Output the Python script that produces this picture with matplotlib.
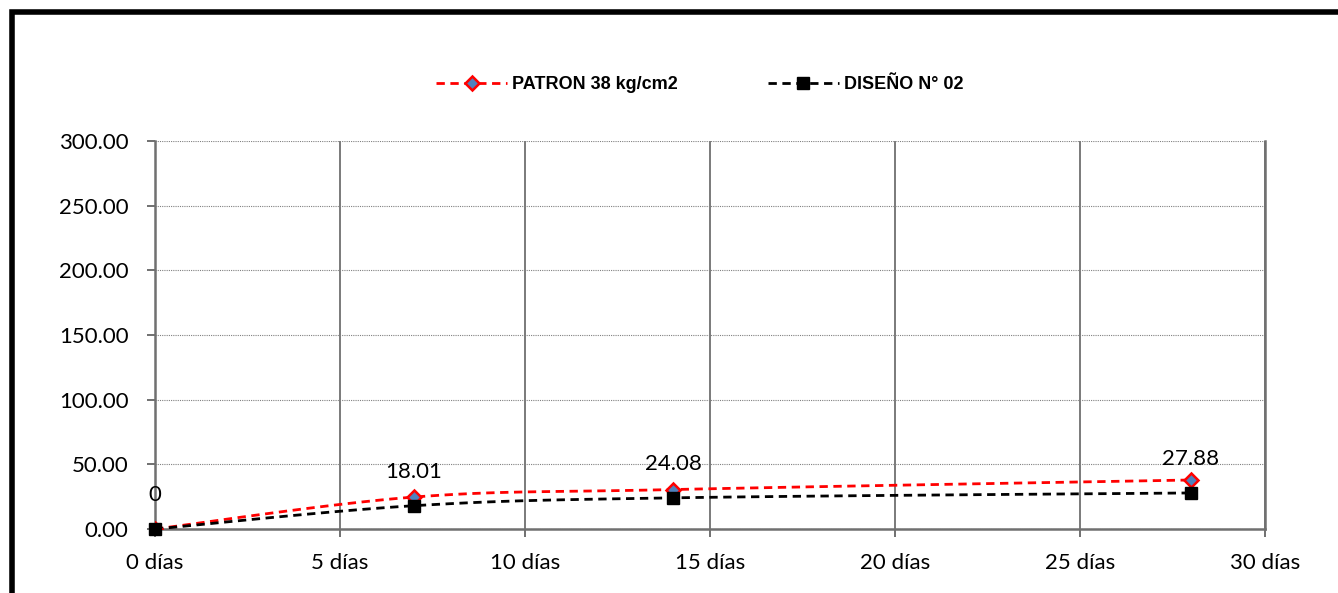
import numpy as np
import matplotlib
matplotlib.use('Agg')
import matplotlib.pyplot as plt
from matplotlib.lines import Line2D
from matplotlib.patches import Rectangle

dias = [0, 7, 14, 28]
patron = [0, 24.7, 30.5, 37.9]
diseno = [0, 18.01, 24.08, 27.88]
xticks = [0, 5, 10, 15, 20, 25, 30]
yticks = [0, 50, 100, 150, 200, 250, 300]


def smooth(x, y, n=40):
    # cardinal spline through the points, like the smoothed line of a spreadsheet
    x = np.asarray(x, float)
    y = np.asarray(y, float)
    px = np.concatenate([[x[0]], x, [x[-1]]])
    py = np.concatenate([[y[0]], y, [y[-1]]])
    xs, ys = [], []
    for i in range(1, len(px) - 2):
        t = np.linspace(0, 1, n)
        p0, p1, p2, p3 = [np.array([px[j], py[j]]) for j in range(i - 1, i + 3)]
        m1 = (p2 - p0) / 6.0
        m2 = (p3 - p1) / 6.0
        c1 = p1 + m1
        c2 = p2 - m2
        b = ((1 - t) ** 3)[:, None] * p1 + (3 * (1 - t) ** 2 * t)[:, None] * c1 \
            + (3 * (1 - t) * t ** 2)[:, None] * c2 + (t ** 3)[:, None] * p2
        xs.append(b[:, 0])
        ys.append(b[:, 1])
    return np.concatenate(xs), np.concatenate(ys)


fig = plt.figure(figsize=(13.38, 5.93), dpi=100)
ax = fig.add_axes([155 / 1338, 1 - 529 / 593, 1110 / 1338, 388 / 593])

tick_font = 'Lato'

sx, sy = smooth(dias, patron)
ax.plot(sx, sy, color='#ff0000', ls='--', lw=2, dashes=(3, 2), zorder=3)
ax.plot(dias, patron, ls='none', marker='D', ms=7, mfc='#4f81bd', mec='#ff0000', mew=1.8, zorder=4)

sx, sy = smooth(dias, diseno)
ax.plot(sx, sy, color='black', ls='--', lw=2, dashes=(3, 2), zorder=3)
ax.plot(dias, diseno, ls='none', marker='s', ms=9, mfc='black', mec='black', zorder=5, clip_on=False)

for x, v in zip(dias, diseno):
    lbl = '0' if v == 0 else f'{v:.2f}'
    ax.annotate(lbl, (x, v), xytext=(0, 24.5), textcoords='offset points',
                ha='center', va='center', fontsize=16, family=tick_font)

ax.set_xlim(0, 30)
ax.set_ylim(0, 300)
ax.set_xticks(xticks)
ax.set_xticklabels([f'{d} días' for d in xticks], fontsize=16, family=tick_font)
ax.set_yticks(yticks)
ax.set_yticklabels([f'{v:.2f}' for v in yticks], fontsize=16, family=tick_font)
ax.tick_params(axis='both', direction='out', length=6, color='#707070', width=1.4)
ax.tick_params(axis='x', pad=11)
ax.tick_params(axis='y', pad=13)

ax.grid(axis='x', color='#707070', lw=1.3, ls='-')
ax.grid(axis='y', color='#808080', lw=0.8, ls=(0, (1, 1)))
for s in ['left', 'bottom', 'right']:
    ax.spines[s].set_color('#707070')
    ax.spines[s].set_linewidth(1.8)
ax.spines['top'].set_visible(False)

handles = [
    Line2D([], [], color='#ff0000', ls='--', lw=2, dashes=(3, 2), marker='D', ms=7,
           mfc='#4f81bd', mec='#ff0000', mew=1.8),
    Line2D([], [], color='black', ls='--', lw=2, dashes=(3, 2), marker='s', ms=8,
           mfc='black', mec='black'),
]
fig.legend(handles, ['PATRON 38 kg/cm2', 'DISEÑO N° 02'], loc='center',
           bbox_to_anchor=(700 / 1338, 1 - 85 / 593), ncol=2, frameon=False,
           handlelength=3.9, columnspacing=5.0, handletextpad=0.3,
           prop={'family': 'Liberation Sans', 'weight': 'bold', 'size': 13})

# outer frame, cut off at right and bottom
fig.patches.append(Rectangle((12 / 1338, -0.1), 1.2, 1 - 12 / 593 + 0.1,
                             transform=fig.transFigure, fill=False,
                             edgecolor='black', lw=4, zorder=10))

fig.savefig('out.png', dpi=100)
